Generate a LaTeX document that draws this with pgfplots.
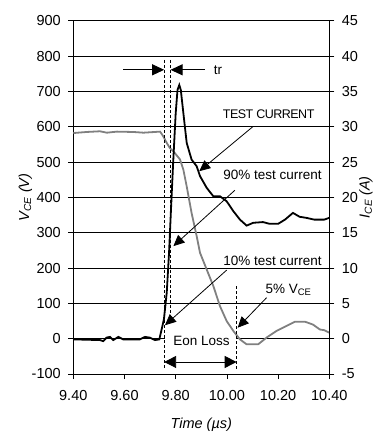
\documentclass[border=0pt]{standalone}
\usepackage{pgfplots}
\pgfplotsset{compat=1.18}
\usepackage{fontspec}
\setmainfont{Liberation Sans}
\usetikzlibrary{arrows.meta}
\definecolor{vgray}{RGB}{128,128,128}
\begin{document}
\begin{tikzpicture}
\useasboundingbox (-73.3pt,-60pt) rectangle (302.7pt,374pt);
\pgfplotsset{
 every axis/.append style={
  scale only axis, width=256pt, height=353.3pt, at={(0,0)}, anchor=south west,
  xmin=9.4, xmax=10.4,
  tick label style={font=\fontsize{14.5}{16}\selectfont},
  label style={font=\fontsize{14.5}{16}\selectfont\itshape},
  /pgf/number format/assume math mode=true,
  tick align=outside, major tick length=5pt,
  axis line style={line width=0.9pt},
  every tick/.style={black, line width=0.7pt},
 }
}
\begin{axis}[
 ymin=-100, ymax=900, ytick={-100,0,100,200,300,400,500,600,700,800,900},
 xtick={9.4,9.6,9.8,10.0,10.2,10.4},
 xticklabel style={yshift=-8pt, /pgf/number format/.cd, fixed, fixed zerofill, precision=2},
 yticklabel style={xshift=-4pt},
 xtick pos=left, ytick pos=left,
 ymajorgrids, major grid style={black, line width=0.6pt},
 xlabel={Time (\textmu s)},
 xlabel style={at={(axis description cs:0.5,-0.1444)}, anchor=center},
 ylabel={V\textsubscript{CE} (V)},
 ylabel style={at={(axis description cs:-0.1875,0.5)}, anchor=center},
 clip=false,
]
\addplot[vgray, line width=1.8pt] coordinates {
(9.400,582) (9.452,585) (9.504,587) (9.531,583) (9.570,586) (9.635,585)
(9.674,583) (9.739,586) (9.752,572) (9.765,554) (9.777,540) (9.797,525)
(9.817,507) (9.830,478) (9.843,431) (9.862,356) (9.882,290) (9.895,243)
(9.921,196) (9.947,149) (9.973,92) (9.999,50) (10.025,22) (10.051,-2)
(10.077,-16) (10.122,-16) (10.155,3) (10.194,22) (10.233,36) (10.266,48)
(10.305,48) (10.336,40) (10.363,26) (10.380,24) (10.400,17)
};
\addplot[black, line width=1.8pt] coordinates {
(9.400,-2) (9.504,-4) (9.517,-7) (9.530,3) (9.543,5) (9.556,-4) (9.576,5)
(9.595,-2) (9.660,-2) (9.680,5) (9.699,3) (9.719,-4) (9.736,-2) (9.745,26)
(9.754,55) (9.765,130) (9.774,243) (9.781,356) (9.790,497) (9.800,638)
(9.807,704) (9.814,718) (9.820,704) (9.830,638) (9.843,554) (9.862,507)
(9.882,488) (9.895,460) (9.921,427) (9.947,403) (9.973,403) (9.999,389)
(10.025,361) (10.051,337) (10.077,320) (10.103,328) (10.141,330) (10.167,325)
(10.200,325) (10.227,337) (10.258,356) (10.284,345) (10.310,342) (10.341,337)
(10.380,337) (10.400,342)
};
% Eon Loss box
\fill[white] (axis cs:9.758,-22) rectangle (axis cs:10.035,8);
\node[font=\fontsize{13.5}{15}\selectfont] at (axis cs:9.901,-7) {Eon Loss};
% dashed lines
\draw[dashed, line width=0.8pt, dash pattern=on 3pt off 2pt] (axis cs:9.755,789) -- (axis cs:9.755,-87);
\draw[dashed, line width=0.8pt, dash pattern=on 3pt off 2pt] (axis cs:9.780,789) -- (axis cs:9.780,62);
\draw[dashed, line width=0.8pt, dash pattern=on 3pt off 2pt] (axis cs:10.038,149) -- (axis cs:10.038,-87);
% tr arrows
\draw[line width=0.9pt, -{Triangle[length=12pt,width=11pt]}] (axis cs:9.595,761) -- (axis cs:9.755,761);
\draw[line width=0.9pt, -{Triangle[length=12pt,width=11pt]}] (axis cs:9.914,761) -- (axis cs:9.780,761);
\node[anchor=west, font=\fontsize{13.5}{15}\selectfont] at (axis cs:9.935,761) {tr};
% Eon Loss arrow
\draw[line width=0.9pt, {Triangle[length=12pt,width=12pt]}-{Triangle[length=12pt,width=12pt]}] (axis cs:9.755,-66) -- (axis cs:10.038,-66);
% annotation arrows
\draw[line width=0.8pt, -{Triangle[length=11pt,width=10pt]}] (axis cs:10.103,601) -- (axis cs:9.892,474);
\draw[line width=0.8pt, -{Triangle[length=11pt,width=10pt]}] (axis cs:10.031,420) -- (axis cs:9.791,262);
\draw[line width=0.8pt, -{Triangle[length=11pt,width=10pt]}] (axis cs:9.999,194) -- (axis cs:9.758,38);
\draw[line width=0.8pt, -{Triangle[length=11pt,width=10pt]}] (axis cs:10.155,116) -- (axis cs:10.042,31);
% labels
\node[font=\fontsize{12.5}{14}\selectfont, inner sep=0pt] at (axis cs:10.163,634) {\addfontfeatures{LetterSpace=-4}TEST CURRENT};
\node[font=\fontsize{13.5}{15}\selectfont, inner sep=0pt] at (axis cs:10.178,464) {90\% test current};
\node[font=\fontsize{13.5}{15}\selectfont, inner sep=0pt] at (axis cs:10.178,219) {10\% test current};
\node[font=\fontsize{13.5}{15}\selectfont, inner sep=0pt] at (axis cs:10.241,139) {5\% V\textsubscript{CE}};
\end{axis}
\begin{axis}[
 ymin=-5, ymax=45, ytick={-5,0,5,10,15,20,25,30,35,40,45},
 hide x axis, axis y line*=right,
 yticklabel style={xshift=4pt},
 ylabel={I\textsubscript{CE} (A)},
 ylabel style={at={(axis description cs:1.143,0.5)}, anchor=center, inner sep=0pt},
]
\end{axis}
\end{tikzpicture}
\end{document}
